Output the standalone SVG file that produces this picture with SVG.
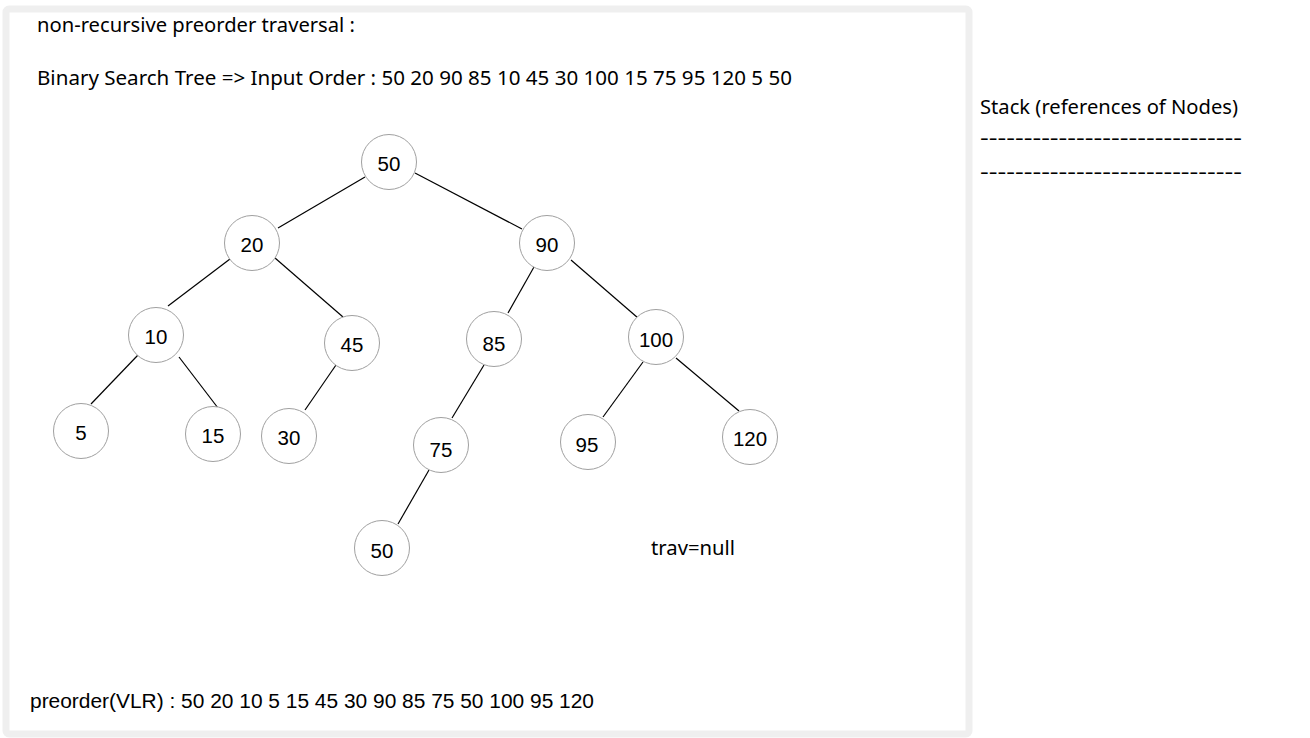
<svg xmlns="http://www.w3.org/2000/svg" width="1310" height="738" viewBox="0 0 1310 738">
<style>
.panel{fill:#fff;stroke:#efefef;stroke-width:7}
.node circle{fill:#fff;stroke:#a0a0a0;stroke-width:1}
.node text{font-family:"Liberation Sans",Arial,sans-serif;font-size:20.5px;fill:#000;text-anchor:middle;dominant-baseline:central}
.edges line{stroke:#000;stroke-width:1.2}
.t{font-family:"Noto Sans","Open Sans",sans-serif;font-size:19px;fill:#000}
.b{font-family:"Liberation Sans",Arial,sans-serif;font-size:20px;fill:#000}
</style>
<rect x="0" y="0" width="1310" height="738" fill="#fff"/>
<rect class="panel" x="6" y="9" width="963" height="725" rx="3"/>
<text class="t" x="37" y="32" textLength="318" lengthAdjust="spacingAndGlyphs">non-recursive preorder traversal :</text>
<text class="t" x="37" y="85" textLength="755" lengthAdjust="spacingAndGlyphs">Binary Search Tree =&gt; Input Order : 50 20 90 85 10 45 30 100 15 75 95 120 5 50</text>
<text class="t" x="980" y="114" textLength="258" lengthAdjust="spacingAndGlyphs">Stack (references of Nodes)</text>
<text class="t" x="980" y="145" textLength="262" lengthAdjust="spacingAndGlyphs">------------------------------</text>
<text class="t" x="980" y="179" textLength="262" lengthAdjust="spacingAndGlyphs">------------------------------</text>
<text class="t" x="651" y="555" textLength="84" lengthAdjust="spacingAndGlyphs">trav=null</text>
<text class="b" x="30" y="708" textLength="564" lengthAdjust="spacingAndGlyphs">preorder(VLR) : 50 20 10 5 15 45 30 90 85 75 50 100 95 120</text>
<g class="edges" id="connectors">
<line x1="365" y1="177" x2="278" y2="228"/>
<line x1="415" y1="173" x2="522" y2="229"/>
<line x1="230" y1="259" x2="168" y2="306"/>
<line x1="275" y1="258" x2="343" y2="317"/>
<line x1="534" y1="267" x2="508" y2="313"/>
<line x1="571" y1="260" x2="638" y2="318"/>
<line x1="138" y1="355" x2="91" y2="404"/>
<line x1="179" y1="357" x2="218" y2="408"/>
<line x1="336" y1="365" x2="305" y2="410"/>
<line x1="484" y1="365" x2="452" y2="418"/>
<line x1="643" y1="362" x2="603" y2="417"/>
<line x1="676" y1="358" x2="739" y2="411"/>
<line x1="429" y1="470" x2="398" y2="524"/>
</g>
<g class="node" id="n50"><circle cx="389" cy="162" r="27.5"/><text x="389" y="163">50</text></g>
<g class="node" id="n20"><circle cx="252" cy="243" r="27.5"/><text x="252" y="244">20</text></g>
<g class="node" id="n90"><circle cx="547" cy="243" r="27.5"/><text x="547" y="244">90</text></g>
<g class="node" id="n10"><circle cx="156" cy="335" r="27.5"/><text x="156" y="336">10</text></g>
<g class="node" id="n45"><circle cx="352" cy="343" r="27.5"/><text x="352" y="344">45</text></g>
<g class="node" id="n85"><circle cx="494" cy="339" r="27.5"/><text x="494" y="343">85</text></g>
<g class="node" id="n100"><circle cx="656" cy="337" r="27.5"/><text x="656" y="339">100</text></g>
<g class="node" id="n5"><circle cx="81" cy="431" r="27.5"/><text x="81" y="432">5</text></g>
<g class="node" id="n15"><circle cx="213" cy="434" r="27.5"/><text x="213" y="435">15</text></g>
<g class="node" id="n30"><circle cx="289" cy="436" r="27.5"/><text x="289" y="437">30</text></g>
<g class="node" id="n75"><circle cx="441" cy="445" r="27.5"/><text x="441" y="449">75</text></g>
<g class="node" id="n95"><circle cx="588" cy="442" r="27.5"/><text x="587" y="444">95</text></g>
<g class="node" id="n120"><circle cx="750" cy="437" r="27.5"/><text x="750" y="438">120</text></g>
<g class="node" id="n50b"><circle cx="382" cy="548" r="27.5"/><text x="382" y="550">50</text></g>
</svg>
